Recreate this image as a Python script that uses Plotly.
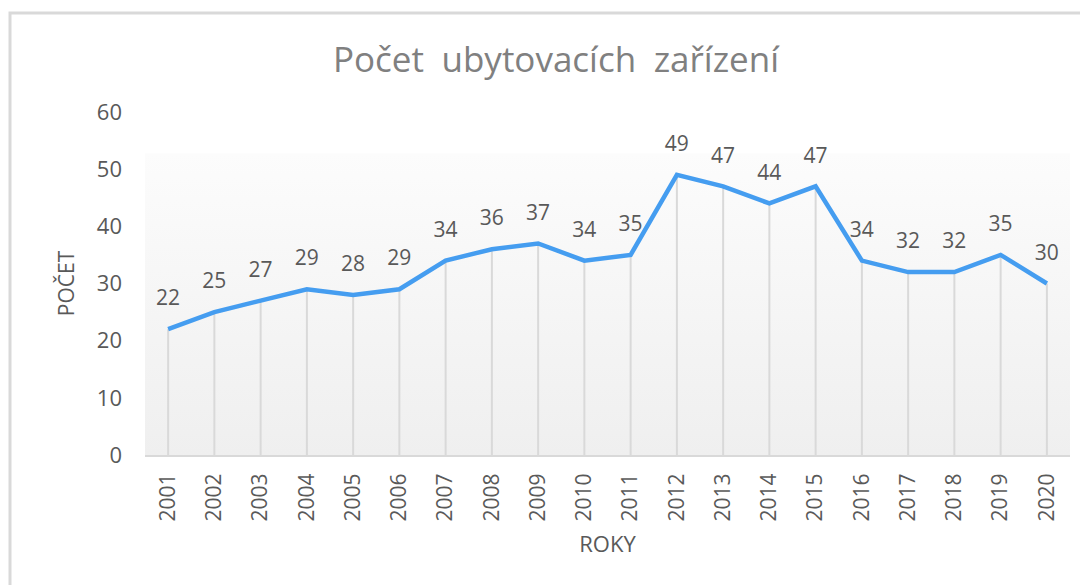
import plotly.graph_objects as go

# ── data ──────────────────────────────────────────────────────────────────────
years = [str(y) for y in range(2001, 2021)]
counts = [22, 25, 27, 29, 28, 29, 34, 36, 37, 34,
          35, 49, 47, 44, 47, 34, 32, 32, 35, 30]

TITLE = "Počet\u2002ubytovacích\u2002zařízení"
X_TITLE = "ROKY"
Y_TITLE = "POČET"

_LINE = "#459DF0"
_TXT = "#595959"
_GRID = "#D9D9D9"
_FONT = "Open Sans, DejaVu Sans, sans-serif"

# the page puts the figure 8px in from the window corner; compensate
_OFF = 8
_L, _T, _R, _B = 145 - _OFF, 112 - _OFF, 18 + _OFF, 130 + _OFF
_PW, _PH = 1088 - _L - _R, 585 - _T - _B

fig = go.Figure()

# plot-area gradient (Excel style fill), drawn on a hidden base axis
fig.add_trace(go.Scatter(
    x=[0, 1, 1, 0], y=[0, 0, 52.8, 52.8],
    xaxis="x", yaxis="y",
    mode="none", fill="toself",
    fillgradient=dict(type="vertical",
                      colorscale=[[0, "#EFEFEF"], [1, "#FCFCFC"]]),
    hoverinfo="skip", showlegend=False,
))

# drop lines from each point down to the axis
fig.add_trace(go.Scatter(
    x=years, y=counts, xaxis="x2", yaxis="y",
    mode="markers", marker=dict(size=1, opacity=0),
    error_y=dict(type="data", symmetric=False, array=[0] * len(counts),
                 arrayminus=counts, color=_GRID, thickness=2, width=0),
    hoverinfo="skip", showlegend=False,
))

# main series with data labels
fig.add_trace(go.Scatter(
    x=years, y=counts, xaxis="x2", yaxis="y",
    mode="lines+markers+text",
    line=dict(color=_LINE, width=4.5),
    marker=dict(size=28, color="rgba(0,0,0,0)"),
    text=[str(v) for v in counts],
    textposition="top center",
    textfont=dict(size=21, color=_TXT, family=_FONT),
    cliponaxis=False,
    showlegend=False,
))

fig.update_layout(
    width=1088, height=585,
    margin=dict(l=_L, r=_R, t=_T, b=_B),
    paper_bgcolor="white", plot_bgcolor="white",
    font=dict(family=_FONT, color=_TXT),
    title=dict(text=TITLE, x=(556 - _OFF) / 1088, xanchor="center",
               y=1 - (60 - _OFF) / 585, yanchor="middle",
               font=dict(size=35, color="#808080", family=_FONT)),
    xaxis=dict(range=[0, 1], visible=False, fixedrange=True),
    xaxis2=dict(
        overlaying="x", side="bottom", type="category",
        range=[-0.5, len(years) - 0.5],
        showgrid=False, showline=True, linecolor=_GRID, linewidth=2,
        ticks="", tickangle=-90, ticklabelstandoff=8,
        tickfont=dict(size=21, color=_TXT),
        title=dict(text=X_TITLE, standoff=16,
                   font=dict(size=22, color=_TXT)),
    ),
    yaxis=dict(
        range=[0, 60], dtick=10, showgrid=False, zeroline=False,
        showline=False, ticks="", ticklabelstandoff=22,
        tickfont=dict(size=22, color=_TXT),
        title=dict(text=Y_TITLE, standoff=16,
                   font=dict(size=21, color=_TXT)),
    ),
    # outer chart-area border (left/top edges visible in the window)
    shapes=[dict(type="rect", xref="paper", yref="paper",
                 x0=(2 - _L) / _PW, x1=1.2,
                 y0=-0.5, y1=(_T + _PH - 5) / _PH,
                 line=dict(color="#D9D9D9", width=3), layer="below")],
)

fig.write_html("out.html")
